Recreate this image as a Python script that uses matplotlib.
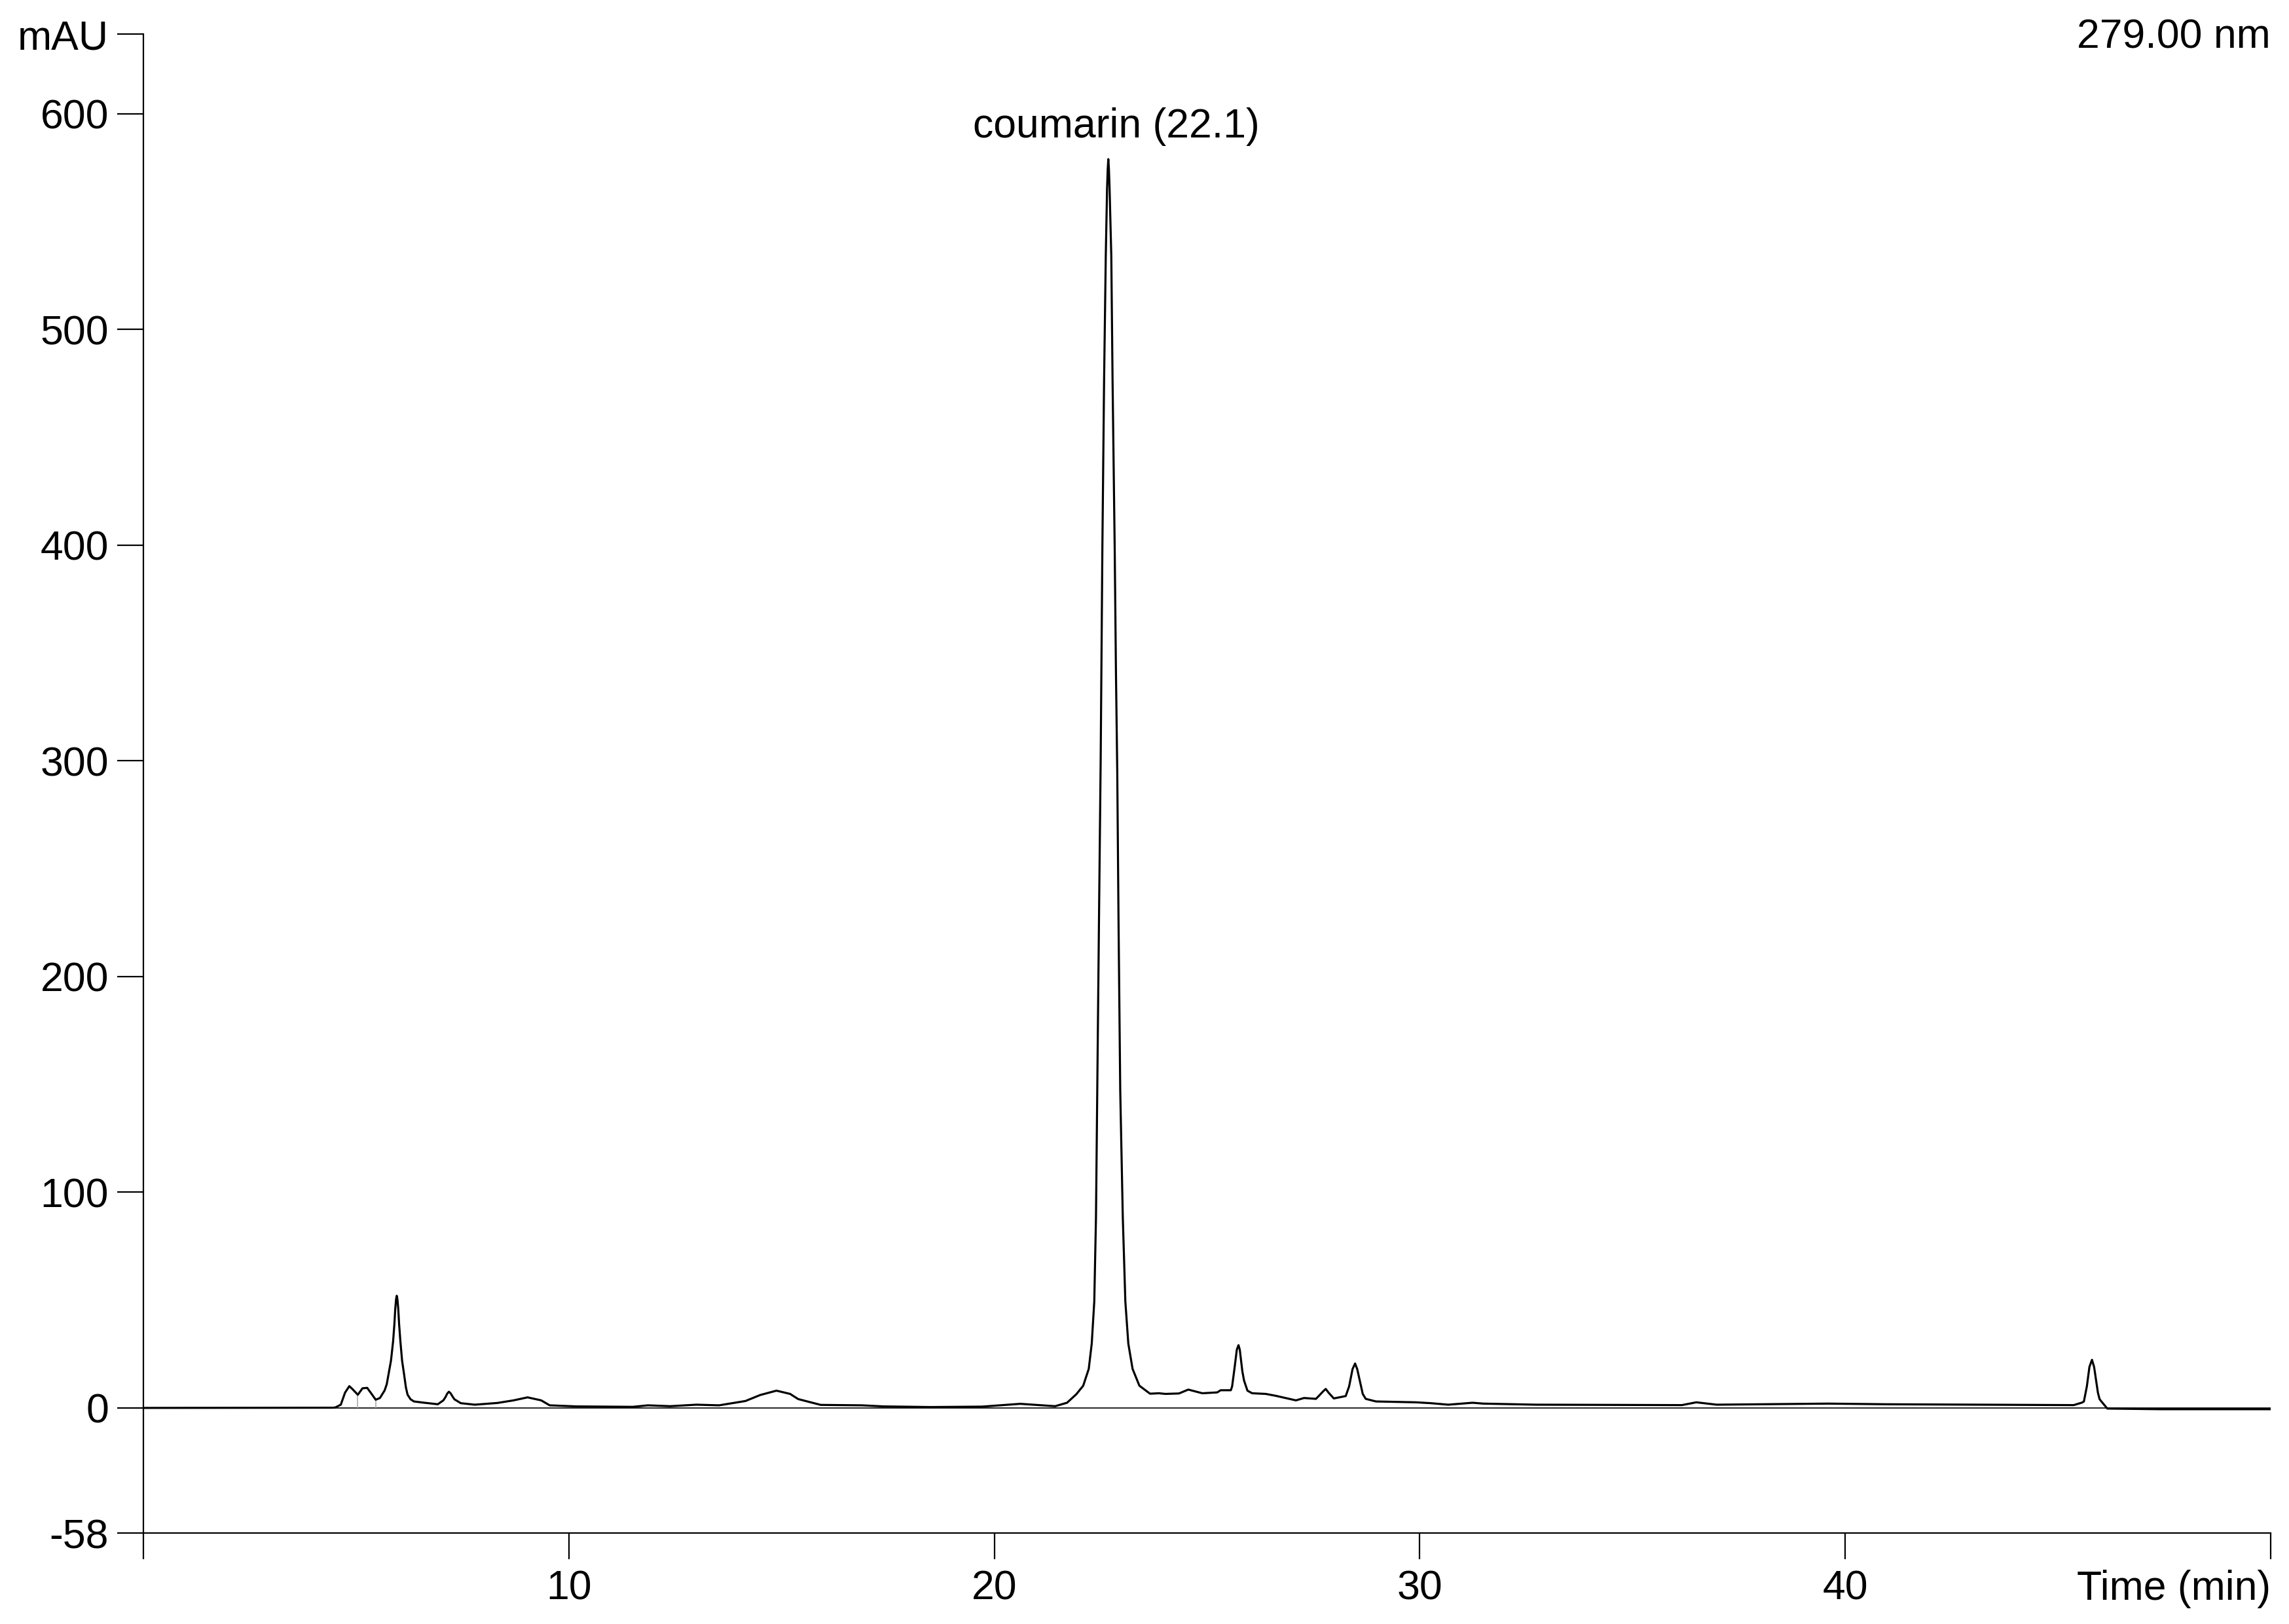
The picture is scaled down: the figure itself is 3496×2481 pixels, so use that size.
# -*- coding: utf-8 -*-

import matplotlib
matplotlib.use('Agg')
import matplotlib.pyplot as plt

plt.rcParams['font.family'] = ['Liberation Sans', 'DejaVu Sans']

# trace (time in min, signal in mAU)
time = [0, 4.45, 4.51, 4.64, 4.74, 4.84, 4.92, 5.04, 5.15, 5.26, 5.36, 5.46, 5.56, 5.67,
        5.72, 5.82, 5.87, 5.90, 5.92, 5.94, 5.955, 5.97, 5.99, 6.01, 6.04, 6.08, 6.13, 6.17,
        6.21, 6.28, 6.36, 6.56, 6.92, 7.05, 7.10, 7.14, 7.18, 7.22, 7.26, 7.31,
        7.46, 7.79, 8.32, 8.7, 9.03, 9.35, 9.55, 10.18, 11.5, 11.86, 12.38, 13.0, 13.53,
        14.15, 14.5, 14.88, 15.2, 15.39, 15.92, 16.89, 17.4, 18.5, 19.71, 20.61, 21.43,
        21.71, 21.93, 22.09, 22.22, 22.29, 22.35, 22.39, 22.42, 22.46, 22.50, 22.54, 22.58,
        22.62, 22.65, 22.665, 22.68, 22.695, 22.71, 22.75, 22.78, 22.83, 22.86, 22.89, 22.92,
        22.96, 23.02, 23.08, 23.15, 23.25, 23.41, 23.66, 23.87, 24.02, 24.34, 24.56, 24.89,
        25.24, 25.32, 25.56, 25.59, 25.65, 25.70, 25.74, 25.77, 25.83, 25.87, 25.95, 26.06,
        26.38, 26.62, 27.09, 27.28, 27.56, 27.63, 27.72, 27.79, 27.86, 27.98, 28.26, 28.34,
        28.42, 28.48, 28.53, 28.62, 28.66, 28.73, 28.97, 29.91, 30.26, 30.67, 31.24, 31.49,
        32.73, 36.16, 36.5, 36.98, 39.6, 40.97, 45.37, 45.57, 45.61, 45.68, 45.74, 45.8,
        45.85, 45.88, 45.94, 45.98, 46.16, 47.4, 50]
mau = [0, 0.1, 0.2, 1.5, 7.1, 10.1, 8.6, 6.1, 9.1, 9.3, 6.6, 3.8, 4.6, 8.1,
       11, 22, 31, 39, 46, 50.5, 52, 50.5, 46, 39, 31, 22, 15.2, 9.5,
       6.1, 4.0, 3.0, 2.5, 1.7, 3.5, 5.0, 6.6, 7.5, 6.8, 5.5, 4.0,
       2.2, 1.5, 2.3, 3.5, 4.9, 3.5, 1.2, 0.7, 0.5, 1.2, 0.8, 1.5, 1.2,
       3.2, 6.0, 8.0, 6.5, 4.1, 1.4, 1.2, 0.7, 0.4, 0.6, 1.9, 0.8,
       2.4, 6.4, 10.3, 18.1, 29.8, 49.4, 88.5, 147.1, 225.4, 300, 398.4, 475.8,
       533.9, 565, 574, 579, 574, 565, 533.9, 475.8, 398.4, 340, 295, 225.4,
       147.1, 88.5, 49.4, 29.8, 18.1, 10.3, 6.6, 6.8, 6.5, 6.7, 8.5, 6.8,
       7.2, 8.2, 8.2, 10, 19, 27, 29.1, 27, 17, 12.7, 8, 6.8,
       6.5, 5.6, 3.5, 4.6, 4.2, 5.6, 7.5, 8.8, 7.0, 4.4, 5.5, 10,
       18, 20.6, 18, 10, 6.5, 4.2, 3.0, 2.6, 2.2, 1.5, 2.4, 2.0,
       1.5, 1.3, 2.6, 1.5, 2.0, 1.7, 1.3, 2.5, 3.0, 10, 19, 22.3,
       19, 15, 7, 4.0, -0.3, -0.6, -0.6]

# peak separation drops
drop_t = [5.04, 5.46]
drop_v = [6.1, 3.8]

y_ticks = [-58, 0, 100, 200, 300, 400, 500, 600, 637]
y_labels = ['-58', '0', '100', '200', '300', '400', '500', '600', 'mAU']
x_ticks = [0, 10, 20, 30, 40, 50]
x_labels = ['', '10', '20', '30', '40', 'Time (min)']

fig = plt.figure(figsize=(34.96, 24.81), dpi=100)
ax = fig.add_axes([219 / 3496, 1 - 2342 / 2481, (3468 - 219) / 3496, (2342 - 52) / 2481])

ax.axhline(0, color='black', lw=1.2)
ax.vlines(drop_t, 0, drop_v, color='#aaaaaa', lw=1.2)
ax.plot(time, mau, color='black', lw=2.3, solid_joinstyle='round')

ax.text(22.86, 589, 'coumarin (22.1)', ha='center', va='baseline', fontsize=45)
fig.text(3468 / 3496, 1 - 73 / 2481, '279.00 nm', ha='right', va='baseline', fontsize=45)

ax.set_xlim(0, 50)
ax.set_ylim(-58, 637)
ax.set_xticks(x_ticks)
ax.set_xticklabels(x_labels)
ax.set_yticks(y_ticks)
ax.set_yticklabels(y_labels)
ax.get_xticklabels()[-1].set_ha('right')

ax.spines['top'].set_visible(False)
ax.spines['right'].set_visible(False)
ax.spines['left'].set_linewidth(1.6)
ax.spines['bottom'].set_linewidth(1.6)
ax.tick_params(direction='out', length=29, width=1.6, labelsize=45)
ax.tick_params(axis='x', pad=11)
ax.tick_params(axis='y', pad=9)

fig.savefig('out.png', dpi=100)
